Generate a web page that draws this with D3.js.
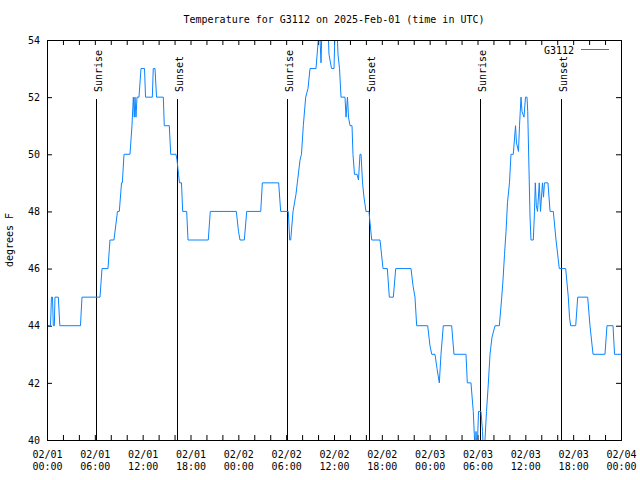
<!DOCTYPE html>
<html>
<head>
<meta charset="utf-8">
<script src="https://cdn.jsdelivr.net/npm/d3@7"></script>
<style>
  html, body { margin: 0; padding: 0; background: #fff; }
  svg { display: block; }
  text { font-family: "DejaVu Sans Mono", monospace; font-size: 10px; fill: #000; }
</style>
</head>
<body>
<svg id="chart" width="640" height="480"></svg>
<script>
// ---- Data (hours since 2025-02-01 00:00 UTC, temperature in °F) ----
const hours = [
  0, 0.44, 0.56, 0.69, 0.79, 0.92, 1.00, 1.42, 1.61, 4.20, 4.39, 6.65, 6.90, 7.65, 7.90, 8.40,
  8.84, 9.07, 9.35, 9.45, 9.66, 10.41, 10.66, 10.83, 10.95, 11.04, 11.16, 11.29, 11.54, 11.79,
  12.23, 12.36, 13.21, 13.33, 13.55, 13.74, 14.59, 14.71, 15.34, 15.52, 16.18, 16.31, 16.50,
  16.62, 16.87, 17.02, 17.52, 17.69, 20.23, 20.48, 23.75, 24.02, 24.21, 24.75, 25.05, 26.81,
  27.01, 29.06, 29.31, 30.27, 30.44, 30.57, 30.86, 31.23, 31.40, 31.74, 31.92, 32.15, 32.45,
  32.74, 32.99, 33.74, 34.03, 34.18, 34.37, 34.50, 34.62, 35.19, 35.37, 35.69, 36.00, 36.19,
  36.31, 36.50, 36.69, 36.88, 37.38, 37.51, 37.69, 37.82, 38.01, 38.26, 38.38, 38.57, 38.89,
  39.07, 39.26, 39.39, 39.58, 39.76, 40.01, 40.39, 40.45, 40.73, 41.77, 42.15, 42.69, 42.94,
  43.44, 43.74, 45.66, 45.91, 46.16, 46.37, 47.75, 48.04, 48.26, 48.67, 48.92, 49.21, 49.42,
  49.71, 50.76, 51.05, 52.56, 52.72, 53.18, 53.47, 53.63, 53.75, 53.81, 53.94, 54.13, 54.44,
  54.63, 54.75, 54.94, 55.13, 55.32, 55.57, 55.82, 56.20, 56.74, 57.04, 57.20, 57.39, 57.58,
  57.76, 58.01, 58.20, 58.49, 58.77, 58.89, 59.14, 59.27, 59.46, 59.58, 59.83, 60.02, 60.21,
  60.30, 60.59, 60.71, 61.00, 61.15, 61.25, 61.38, 61.53, 61.75, 61.90, 62.15, 62.28, 62.40,
  62.84, 63.10, 63.51, 63.85, 64.26, 65.06, 65.39, 65.54, 65.69, 66.32, 66.57, 67.82, 68.11,
  68.49, 69.99, 70.24, 71.00, 71.19, 72.00
];
const temps = [
  44, 44, 45, 45, 44, 44, 45, 45, 44, 44, 45, 45, 46, 46, 47, 47,
  48, 48, 49, 49, 50, 50, 51, 52, 51.3, 52, 51.3, 52, 52, 53,
  53, 52, 52, 53, 53, 52, 52, 51, 51, 50, 50, 49.8, 49.3,
  49, 49, 48, 48, 47, 47, 48, 48, 47.3, 47, 47, 48, 48,
  49, 49, 48, 48, 47, 47, 48, 48.6, 49, 49.8, 50, 51, 52,
  52.3, 53, 53, 54, 54.5, 53.2, 54.5, 55, 55, 53.5, 53, 53, 55,
  55, 53.5, 53, 52, 52, 51.3, 52, 51.3, 51, 51, 50, 49.3, 49.3,
  49.1, 50, 50, 49, 48.5, 48, 48, 47.8, 47, 47, 46, 46, 45,
  45, 46, 46, 45.4, 45, 44, 44, 43.3, 43, 43, 42.5, 42, 43,
  44, 44, 43, 43, 42, 42, 41, 40, 39.5, 40.3, 39.5, 41, 41,
  40.3, 39.5, 40, 41, 41.8, 43, 43.6, 44, 44, 45, 45.6, 46.5, 47.3,
  48.3, 49, 50, 50, 51, 50.4, 50.1, 51, 52, 51.5, 51.3, 52, 52,
  51.5, 47.8, 47, 47, 48, 49, 48.2, 48, 49, 48, 49, 48.5, 49,
  49, 48, 48, 47, 46, 46, 45, 44.3, 44, 44, 45, 45, 44,
  43, 43, 44, 44, 43, 43
];
const sunEventHours = [6.15, 16.31, 30.14, 40.43, 54.28, 64.51];
const sunEventLabels = ["Sunrise", "Sunset", "Sunrise", "Sunset", "Sunrise", "Sunset"];
const yTicks = [40, 42, 44, 46, 48, 50, 52, 54];
const xTickHours = d3.range(0, 73, 2);
const xLabelHours = d3.range(0, 73, 6);
const seriesName = "G3112";
const titleText = "Temperature for G3112 on 2025-Feb-01 (time in UTC)";
const yLabelText = "degrees F";

// ---- Layout ----
const W = 640, H = 480;
const m = { left: 47, right: 19, top: 40, bottom: 40 };
const base = Date.UTC(2025, 1, 1, 0, 0, 0);
const toDate = h => new Date(base + h * 3600e3);

const svg = d3.select("#chart");
const x = d3.scaleUtc().domain([toDate(0), toDate(72)]).range([m.left, W - m.right]);
const y = d3.scaleLinear().domain([40, 54]).range([H - m.bottom, m.top]);

const data = hours.map((h, i) => ({ t: toDate(h), v: temps[i] }));

svg.append("defs").append("clipPath").attr("id", "clip")
  .append("rect")
  .attr("x", m.left).attr("y", m.top)
  .attr("width", W - m.left - m.right).attr("height", H - m.top - m.bottom);

// Title
svg.append("text").attr("x", 334).attr("y", 22.5).attr("text-anchor", "middle").text(titleText);

// Y label
svg.append("text")
  .attr("transform", `translate(13,240) rotate(-90)`)
  .attr("text-anchor", "middle").text(yLabelText);

// Axes
const fmtD = d3.utcFormat("%m/%d"), fmtT = d3.utcFormat("%H:%M");
const xb = svg.append("g").attr("transform", `translate(0,${y(40)})`)
  .call(d3.axisBottom(x).tickValues(xTickHours.map(toDate)).tickSizeInner(-5).tickSizeOuter(0).tickFormat(""));
xb.select(".domain").remove();
xb.selectAll(".tick text").remove();
xb.selectAll(".tick").filter(d => xLabelHours.includes((d - base) / 3600e3))
  .append("text").attr("text-anchor", "middle")
  .call(t => {
    t.append("tspan").attr("x", 0).attr("y", 17.5).text(d => fmtD(d));
    t.append("tspan").attr("x", 0).attr("y", 29.5).text(d => fmtT(d));
  });

const xt = svg.append("g").attr("transform", `translate(0,${y(54)})`)
  .call(d3.axisTop(x).tickValues(xTickHours.map(toDate)).tickSizeInner(-5).tickSizeOuter(0).tickFormat(""));
xt.select(".domain").remove();

const yl = svg.append("g").attr("transform", `translate(${m.left},0)`)
  .call(d3.axisLeft(y).tickValues(yTicks).tickSizeInner(-5).tickSizeOuter(0).tickPadding(7).tickFormat(d3.format("d")));
yl.select(".domain").remove();

const yr = svg.append("g").attr("transform", `translate(${W - m.right},0)`)
  .call(d3.axisRight(y).tickValues(yTicks).tickSizeInner(-5).tickSizeOuter(0).tickFormat(""));
yr.select(".domain").remove();

svg.selectAll(".tick line").attr("stroke", "#000");
svg.selectAll("g text").attr("font-family", "DejaVu Sans Mono, monospace").attr("font-size", 10).attr("fill", "#000");

// Sunrise / sunset markers
const sun = svg.append("g");
sunEventHours.forEach((h, i) => {
  const sx = Math.round(x(toDate(h))) + 0.5;
  sun.append("line").attr("x1", sx).attr("x2", sx).attr("y1", 99).attr("y2", y(40))
    .attr("stroke", "#000").attr("stroke-width", 1);
  sun.append("text").attr("transform", `translate(${sx + 5},92) rotate(-90)`)
    .attr("text-anchor", "start").text(sunEventLabels[i]);
});

// Data line
const line = d3.line().x(d => x(d.t)).y(d => y(d.v));
svg.append("path").datum(data)
  .attr("clip-path", "url(#clip)")
  .attr("fill", "none").attr("stroke", "#0a84ff").attr("stroke-width", 1)
  .attr("stroke-linejoin", "miter")
  .attr("d", line);

// Border
svg.append("rect").attr("x", m.left + 0.5).attr("y", m.top + 0.5)
  .attr("width", W - m.left - m.right).attr("height", H - m.top - m.bottom)
  .attr("fill", "none").attr("stroke", "#000").attr("stroke-width", 1);

// Legend
svg.append("text").attr("x", 574).attr("y", 53.5).attr("text-anchor", "end").text(seriesName);
svg.append("line").attr("x1", 581).attr("x2", 609).attr("y1", 49.5).attr("y2", 49.5)
  .attr("stroke", "#0a84ff").attr("stroke-width", 1);
</script>
</body>
</html>
